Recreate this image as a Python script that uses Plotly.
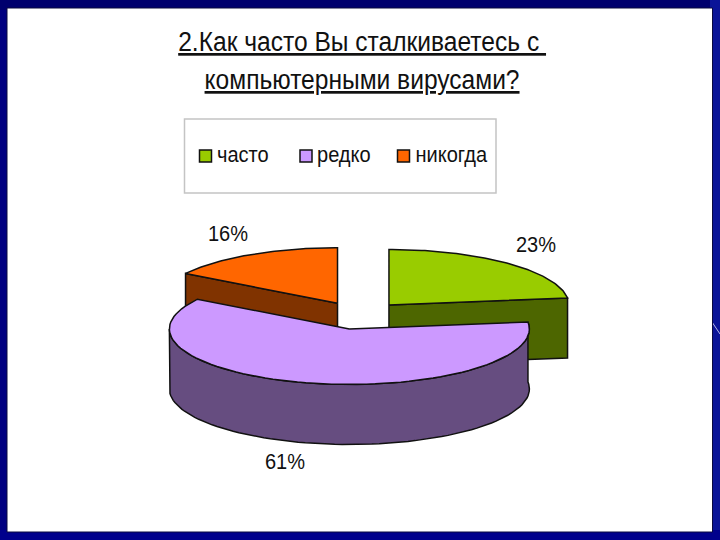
import numpy as np
import plotly.graph_objects as go

categories = ["часто", "редко", "никогда"]
shares = [23, 61, 16]
top_colors = ["#99cc00", "#cc99ff", "#ff6600"]
side_colors = ["#4d6600", "#664d80", "#803300"]

title_lines = ["2.Как часто Вы сталкиваетесь с ", "компьютерными вирусами?"]

# pie geometry, in page pixels
CX, CY = 359.2, 315.4
RX, RY = 180, 55.5
DEPTH = 60
EXPLODE = 45
LABEL_POS = [(536, 246), (285, 463), (228, 235)]
LEGEND_X = [205.5, 306, 403.5]
LEGEND_TEXT_X = [217, 317, 415.5]
LEGEND_Y = 156
OUTLINE = "#111111"
FONT = "Liberation Sans"

# slice angles, clockwise from the top
ends = np.cumsum(shares) * 3.6
starts = ends - np.array(shares) * 3.6


def rim(center, a0, a1, dy=0):
    t = np.radians(np.linspace(a0, a1, 80))
    return center[0] + RX * np.sin(t), center[1] - RY * np.cos(t) + dy


def poly(x, y, color):
    return go.Scatter(
        x=list(x) + [x[0]], y=list(y) + [y[0]],
        mode="lines", fill="toself", fillcolor=color,
        line=dict(color=OUTLINE, width=1.5),
        hoverinfo="skip", showlegend=False,
    )


centers = []
for s, e in zip(starts, ends):
    mid = np.radians((s + e) / 2)
    centers.append((CX + EXPLODE * np.sin(mid), CY - EXPLODE * RY / RX * np.cos(mid)))

fig = go.Figure()

# back slices first, the big one goes on top of them
for i in [0, 2, 1]:
    c = centers[i]
    if i == 0:
        # radial face at the end of the slice
        ex, ey = rim(c, ends[i], ends[i])
        fig.add_trace(poly([c[0], ex[0], ex[0], c[0]],
                           [c[1], ey[0], ey[0] + DEPTH, c[1] + DEPTH], side_colors[i]))
    if i == 2:
        # radial face at the start of the slice
        ex, ey = rim(c, starts[i], starts[i])
        fig.add_trace(poly([c[0], ex[0], ex[0], c[0]],
                           [c[1], ey[0], ey[0] + DEPTH, c[1] + DEPTH], side_colors[i]))
    if i == 1:
        # outer wall
        wx, wy = rim(c, starts[i], 270)
        bx, by = rim(c, 270, starts[i], DEPTH)
        fig.add_trace(poly(np.r_[wx, bx], np.r_[wy, by], side_colors[i]))
    tx, ty = rim(c, starts[i], ends[i])
    fig.add_trace(poly(np.r_[c[0], tx], np.r_[c[1], ty], top_colors[i]))

# percent labels
fig.add_trace(go.Scatter(
    x=[p[0] for p in LABEL_POS], y=[p[1] for p in LABEL_POS],
    mode="text", text=[f"{v}%" for v in shares],
    textfont=dict(family=FONT, size=22, color="#111111"),
    hoverinfo="skip", showlegend=False,
))

# legend row
fig.add_trace(go.Scatter(
    x=LEGEND_X, y=[LEGEND_Y] * 3,
    mode="markers",
    marker=dict(symbol="square", size=12, color=top_colors, line=dict(color="#111111", width=1.5)),
    hoverinfo="skip", showlegend=False,
))
fig.add_trace(go.Scatter(
    x=LEGEND_TEXT_X, y=[LEGEND_Y] * 3,
    mode="text", text=categories, textposition="middle right",
    textfont=dict(family=FONT, size=22, color="#111111"),
    hoverinfo="skip", showlegend=False,
))

shapes = [
    # slide frame
    dict(type="rect", x0=0, x1=720, y0=0, y1=10, fillcolor="#00006e", line_width=0),
    dict(type="rect", x0=710, x1=720, y0=0, y1=540, fillcolor="#0a1498", line_width=0),
    dict(type="rect", x0=0, x1=720, y0=530, y1=540, fillcolor="#00008c", line_width=0),
    dict(type="line", x0=712, x1=720, y0=322, y1=334, line=dict(color="#b8b8e8", width=1)),
    dict(type="rect", x0=7, x1=712.5, y0=8, y1=532, fillcolor="white",
         line=dict(color="#0a0a40", width=1)),
    # legend box
    dict(type="rect", x0=184.5, x1=496, y0=119, y1=193, fillcolor="white",
         line=dict(color="#c4c4c4", width=1.5)),
]
shapes = [dict(s, xref="x", yref="y", layer="below") for s in shapes]

annotations = [
    dict(x=362, y=y, text=f"<u>{line}</u>", showarrow=False, xref="x", yref="y",
         font=dict(family=FONT, size=27, color="#111111"))
    for line, y in zip(title_lines, [42, 80])
]

fig.update_layout(
    width=720, height=540,
    margin=dict(l=0, r=0, t=0, b=0),
    paper_bgcolor="#000080", plot_bgcolor="#000080",
    shapes=shapes, annotations=annotations,
    xaxis=dict(range=[0, 720], visible=False, fixedrange=True),
    yaxis=dict(range=[540, 0], visible=False, fixedrange=True),
)

# drop the default 8px body margin, and squeeze the text like the stretched slide
squeeze = """
document.body.style.margin = '0';
document.querySelectorAll('svg text').forEach(function (t) {
    var w = t.getComputedTextLength();
    t.setAttribute('lengthAdjust', 'spacingAndGlyphs');
    t.setAttribute('textLength', w * 0.91);
});
"""
fig.write_html("out.html", config={"displayModeBar": False}, post_script=squeeze)
